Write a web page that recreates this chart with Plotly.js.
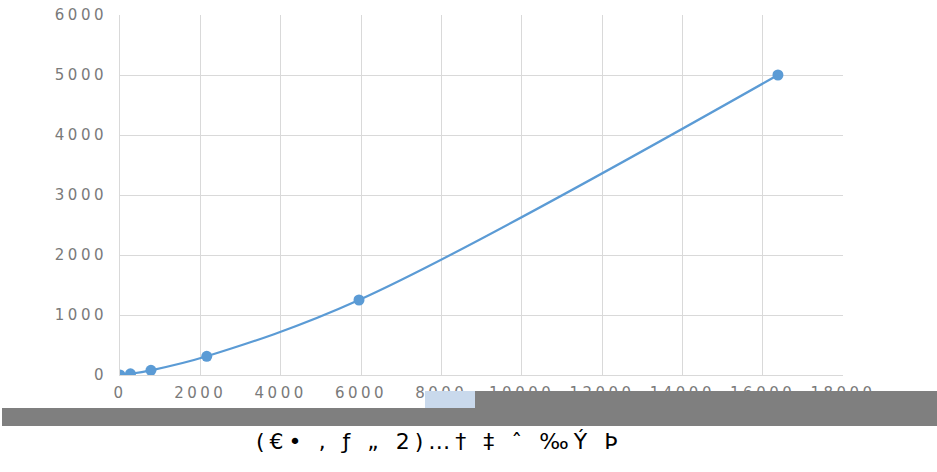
<!DOCTYPE html>
<html>
<head>
<meta charset="utf-8">
<script src="https://cdn.plot.ly/plotly-3.0.1.min.js"></script>
<style>
  html, body { margin: 0; padding: 0; background: #ffffff; }
  #wrap { position: relative; width: 937px; height: 472px; overflow: hidden; }
  #chart { width: 937px; height: 472px; }
  .xtick text, .ytick text { letter-spacing: 3.5px; }
  .annotation-text { letter-spacing: 5px; }
  .bar1 { position: absolute; left: 2px; top: 408px; width: 935px; height: 18px; background: #7f7f7f; }
  .bar2 { position: absolute; left: 475px; top: 391px; width: 462px; height: 17px; background: #7f7f7f; }
  .patch { position: absolute; left: 425px; top: 391px; width: 50px; height: 17px; background: #c9d9ec; }
</style>
</head>
<body>
<div id="wrap">
  <div id="chart"></div>
  <div class="bar1"></div>
  <div class="bar2"></div>
  <div class="patch"></div>
</div>
<script>
// Data
const xValues = [0, 260, 770, 2160, 5950, 16380];
const yValues = [0, 20, 78, 312, 1250, 5000];
const xTicks = [0, 2000, 4000, 6000, 8000, 10000, 12000, 14000, 16000, 18000];
const yTicks = [0, 1000, 2000, 3000, 4000, 5000, 6000];
const captionText = "(€• ‚ ƒ „ 2)…† ‡ ˆ ‰Ý Þ";

const trace = {
  x: xValues,
  y: yValues,
  type: 'scatter',
  mode: 'lines+markers',
  line: { color: '#5b9bd5', width: 2.2, shape: 'spline', smoothing: 1 },
  marker: { color: '#5b9bd5', size: 11, symbol: 'circle' },
  hoverinfo: 'x+y',
  showlegend: false
};

const layout = {
  width: 937,
  height: 472,
  margin: { l: 120, r: 94, t: 15, b: 97 },
  paper_bgcolor: '#ffffff',
  plot_bgcolor: '#ffffff',
  font: { family: 'DejaVu Sans, Verdana, sans-serif', color: '#7f7f7f', size: 15 },
  xaxis: {
    range: [0, 18000],
    tickvals: xTicks,
    ticktext: xTicks.map(String),
    showgrid: true,
    gridcolor: '#d9d9d9',
    gridwidth: 1,
    zeroline: false,
    showline: true,
    linecolor: '#d9d9d9',
    ticks: '',
    ticklabelstandoff: 4,
    tickfont: { size: 15, color: '#7a7a7a' },
    fixedrange: true
  },
  yaxis: {
    range: [0, 6000],
    tickvals: yTicks,
    ticktext: yTicks.map(String),
    showgrid: true,
    gridcolor: '#d9d9d9',
    gridwidth: 1,
    zeroline: false,
    showline: true,
    linecolor: '#d9d9d9',
    ticks: '',
    ticklabelstandoff: 9,
    tickfont: { size: 15, color: '#7a7a7a' },
    fixedrange: true
  },
  annotations: [{
    text: captionText,
    xref: 'paper', yref: 'paper',
    x: 0.4426, y: -0.186,
    xanchor: 'center', yanchor: 'middle',
    showarrow: false,
    font: { family: 'DejaVu Sans, sans-serif', size: 22, color: '#000000' }
  }]
};

Plotly.newPlot('chart', [trace], layout, { displayModeBar: false, staticPlot: true });
</script>
</body>
</html>
